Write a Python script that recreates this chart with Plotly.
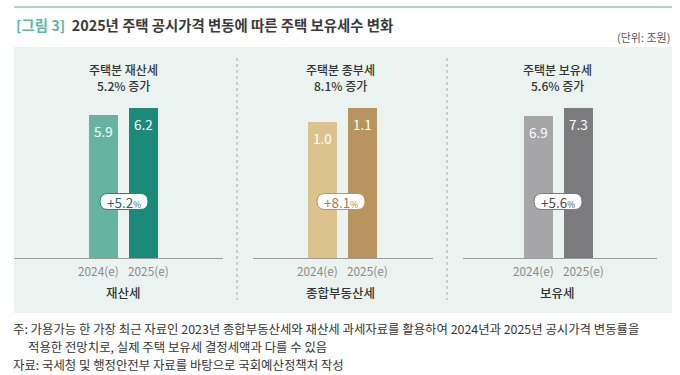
import plotly.graph_objects as go

# ---------------- data ----------------
categories = ["2024(e)", "2025(e)"]
panel_titles = ["주택분 재산세", "주택분 종부세", "주택분 보유세"]
group_labels = ["재산세", "종합부동산세", "보유세"]
growth_pct = [5.2, 8.1, 5.6]
property_tax = [5.9, 6.2]
comprehensive_tax = [1.0, 1.1]
holding_tax = [6.9, 7.3]

series = [property_tax, comprehensive_tax, holding_tax]

# ---------------- styles ----------------
W, H = 680, 375
FONT = "Noto Sans CJK KR"
bar_colors = [["#66B3A2", "#1B8A78"], ["#DCC38E", "#B8945F"], ["#A6A6A8", "#7B7B7E"]]
pill_border = ["#1B8A78", "#B8945F", "#7B7B7E"]
pill_text = ["#2A6B61", "#A47D47", "#4A4A4A"]

def px(x):
    return x / W

def py(y):
    return 1 - y / H

# panel geometry (pixels): domain left/right, first category centre
panels = [
    dict(d0=14, d1=223, c0=103.5, pill=124),
    dict(d0=253, d1=433, c0=322.5, pill=341),
    dict(d0=463, d1=657, c0=538.5, pill=558),
]
SPACING = 40.0
BASE_Y, TOP_Y = 258, 108

fig = go.Figure()
shapes = []
annotations = []

def note(x, y, text, size, color, xanchor="center", yanchor="middle", fontkw=None, **kw):
    d = dict(x=x, y=y, text=text, showarrow=False, xanchor=xanchor, yanchor=yanchor,
             font=dict(family=FONT, size=size, color=color, **(fontkw or {})))
    d.setdefault("xref", "paper")
    d.setdefault("yref", "paper")
    d.update(kw)
    annotations.append(d)

# background band + top rule
shapes.append(dict(type="rect", xref="paper", yref="paper", x0=px(14), x1=px(672),
                   y0=py(313), y1=py(47), fillcolor="#EAF3F0", line=dict(width=0), layer="below"))
shapes.append(dict(type="line", xref="paper", yref="paper", x0=px(14), x1=px(672),
                   y0=py(7), y1=py(7), line=dict(color="#A9D6CC", width=2)))

for i, p in enumerate(panels):
    n = "" if i == 0 else str(i + 1)
    vals = series[i]
    fig.add_trace(go.Bar(
        x=categories, y=vals, marker=dict(color=bar_colors[i], line=dict(width=0)),
        width=29 / SPACING, xaxis="x" + n, yaxis="y" + n, showlegend=False,
        hoverinfo="skip",
    ))
    left = -(p["c0"] - p["d0"]) / SPACING
    right = 1 + (p["d1"] - (p["c0"] + SPACING)) / SPACING
    fig.layout["xaxis" + n] = dict(
        domain=[px(p["d0"]), px(p["d1"])], anchor="y" + n, type="category",
        range=[left, right], showline=True, linecolor="#9C9C9C", linewidth=1,
        showgrid=False, zeroline=False, ticks="", fixedrange=True,
        showticklabels=False,
    )
    fig.layout["yaxis" + n] = dict(
        domain=[py(BASE_Y), py(TOP_Y)], anchor="x" + n, range=[0, max(vals)],
        visible=False, fixedrange=True,
    )
    # value labels inside bars + category labels under the axis
    for k, (c, v) in enumerate(zip(categories, vals)):
        note(c, v, f"{v:.1f}", 13.5, "white", xref="x" + n, yref="y" + n, yshift=-16)
        note(c, py(270), c, 11.8, "#8A8A8A", xref="x" + n, xshift=(-5 if k == 0 else 5))
    # heading
    note(px(p["pill"] - 1), py(69.5), panel_titles[i], 12, "#333333", fontkw=dict(weight=500))
    note(px(p["pill"] - 1), py(85.5), f"{growth_pct[i]}% 증가", 12, "#333333", fontkw=dict(weight=500))
    # group label
    note(px(p["pill"] - 1), py(292), group_labels[i], 12.5, "#333333", fontkw=dict(weight=500))
    # pill
    cx, cy, w, h = p["pill"], 201.5, 48, 16
    r = h / 2
    x0, x1, y0, y1 = cx - w / 2, cx + w / 2, cy - h / 2, cy + h / 2
    path = (f"M {px(x0 + r)},{py(y0)} L {px(x1 - r)},{py(y0)} "
            f"Q {px(x1)},{py(y0)} {px(x1)},{py(cy)} "
            f"Q {px(x1)},{py(y1)} {px(x1 - r)},{py(y1)} "
            f"L {px(x0 + r)},{py(y1)} "
            f"Q {px(x0)},{py(y1)} {px(x0)},{py(cy)} "
            f"Q {px(x0)},{py(y0)} {px(x0 + r)},{py(y0)} Z")
    shapes.append(dict(type="path", xref="paper", yref="paper", path=path,
                       fillcolor="white", line=dict(color=pill_border[i], width=1)))
    note(px(cx), py(cy), f"+{growth_pct[i]}<span style='font-size:8.5px'>%</span>",
         13.5, pill_text[i])

# dotted dividers
for xd in (237, 447):
    shapes.append(dict(type="line", xref="paper", yref="paper", x0=px(xd), x1=px(xd),
                       y0=py(58), y1=py(300), line=dict(color="#A8A8A8", width=1, dash="dot")))

# title
note(px(14), py(25),
     "<span style='color:#5DB6A6'>[그림 3]</span>  2025년 주택 공시가격 변동에 따른 주택 보유세수 변화",
     14.4, "#3A3A3A", xanchor="left", fontkw=dict(weight="bold"))
note(px(672), py(37), "(단위: 조원)", 11, "#555555", xanchor="right")

# footnotes
notes = [
    (12, 329, "주: 가용가능 한 가장 최근 자료인 2023년 종합부동산세와 재산세 과세자료를 활용하여 2024년과 2025년 공시가격 변동률을"),
    (27, 347, "적용한 전망치로, 실제 주택 보유세 결정세액과 다를 수 있음"),
    (12, 365, "자료: 국세청 및 행정안전부 자료를 바탕으로 국회예산정책처 작성"),
]
for xn, yn, t in notes:
    note(px(xn), py(yn), t, 12.4, "#333333", xanchor="left", borderpad=0)

fig.update_layout(
    width=W, height=H, margin=dict(l=0, r=0, t=0, b=0),
    paper_bgcolor="white", plot_bgcolor="rgba(0,0,0,0)",
    shapes=shapes, annotations=annotations, bargap=0,
    font=dict(family=FONT),
)

fig.write_html("out.html", config={"displayModeBar": False},
               post_script="document.body.style.margin='0';")
